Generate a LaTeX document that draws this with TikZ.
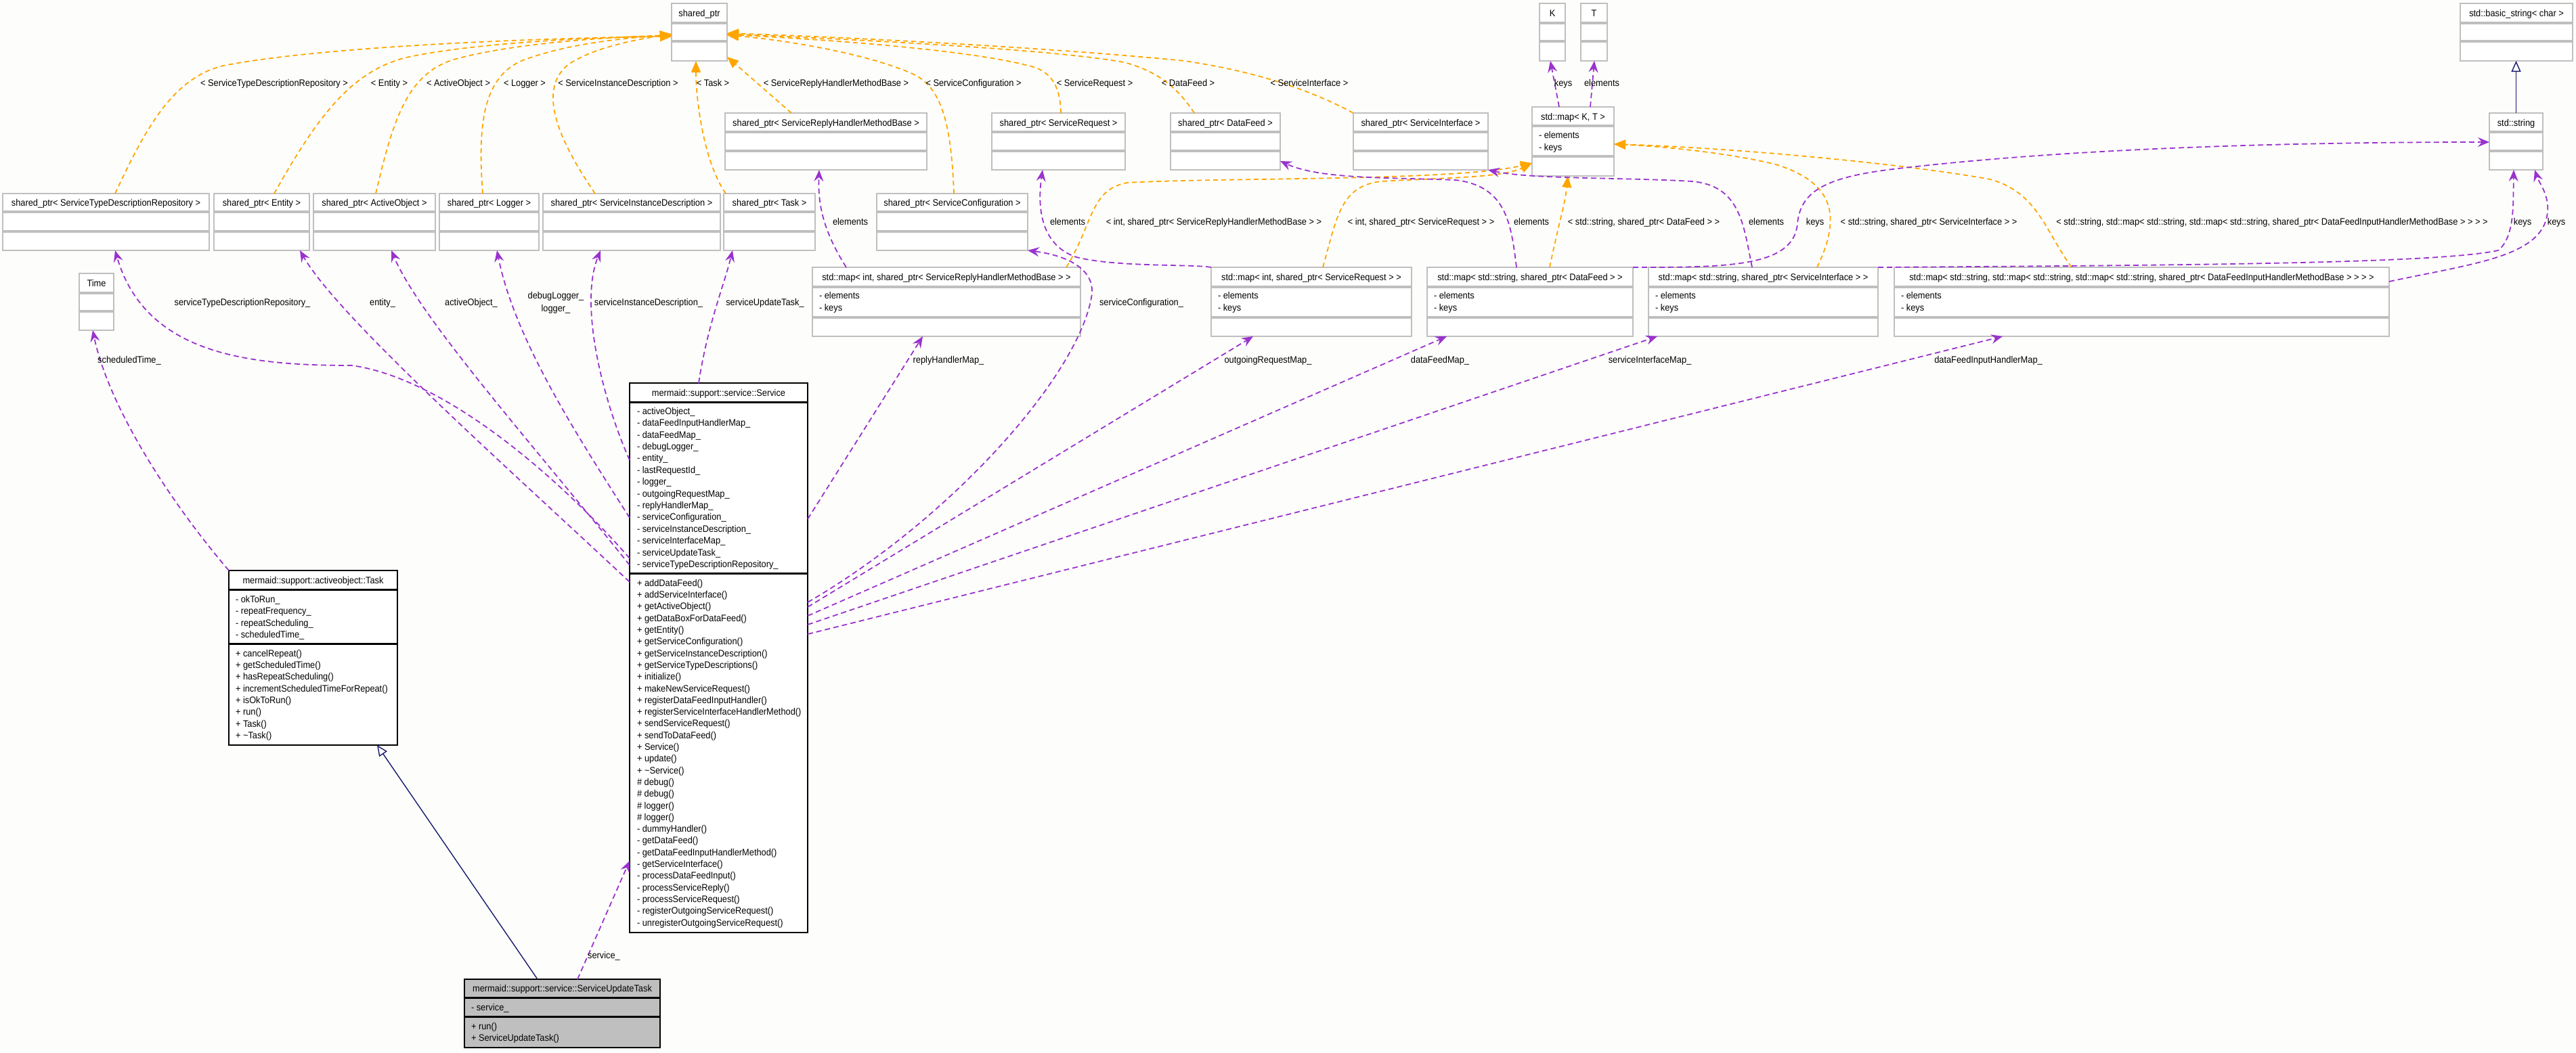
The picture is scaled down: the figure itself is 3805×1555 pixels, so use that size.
\documentclass[tikz,border=0pt]{standalone}
\usepackage{fontspec}
\setmainfont{Liberation Sans}[FakeStretch=0.915]
\usetikzlibrary{arrows.meta,fit,calc}
\definecolor{bgc}{RGB}{253,254,252}
\definecolor{orangeE}{RGB}{255,165,0}
\definecolor{purpleE}{RGB}{154,50,205}
\definecolor{navyE}{RGB}{25,25,112}
\definecolor{boxgray}{RGB}{191,191,191}
\definecolor{sutgray}{RGB}{191,191,191}
\tikzset{
  txt/.style={inner sep=0pt, outer sep=0pt, font=\fontsize{7pt}{8.7pt}\selectfont},
  graybox/.style={draw=boxgray, line width=1.1pt, fill=white, inner sep=0pt, outer sep=0pt},
  grayboxsep/.style={draw=boxgray, line width=1.6pt},
  blackbox/.style={draw=black, line width=1pt, fill=white, inner sep=0pt, outer sep=0pt},
  blackboxsep/.style={draw=black, line width=1.5pt},
  sutbox/.style={draw=black, line width=1pt, fill=sutgray, inner sep=0pt, outer sep=0pt},
  sutboxsep/.style={draw=black, line width=1.5pt},
  tmpl/.style={draw=orangeE, line width=0.9pt, dash pattern=on 3.5pt off 2.5pt, -{Triangle[length=8.5pt,width=7pt]}},
  usage/.style={draw=purpleE, line width=0.9pt, dash pattern=on 4pt off 2.5pt, -{Stealth[length=8.5pt,width=7pt,inset=3pt]}},
  inherit/.style={draw=navyE, line width=0.7pt, -{Triangle[open,length=8pt,width=7pt,fill=white]}},
}
\newcommand\umlcls[8][graybox]{%
  \node[#1, fit={(#3,#4) (#5,#6)}] (#2) {};
  \draw[#1sep] (#3,#7) -- (#5,#7) (#3,#8) -- (#5,#8);
}
\newcommand\ttl[3]{\node[txt, anchor=mid] at (#1,#2) {#3};}
\newcommand\mlist[4]{\foreach \memtxt [count=\memidx from 0] in {#4} {\node[txt, anchor=mid west] at ({#1},{#2+\memidx*#3}) {\memtxt};}}
\begin{document}
\begin{tikzpicture}[x=0.5pt,y=-0.5pt]
\fill[bgc] (0,0) rectangle (3805,1555);
\useasboundingbox (0,0) rectangle (3805,1555);

% ---------- top row
\umlcls{sp}{992}{5}{1074}{90}{34}{61}
\ttl{1033}{19.5}{shared\_ptr}
\umlcls{K}{2274}{5}{2312}{90}{34}{61}
\ttl{2293}{19.5}{K}
\umlcls{T}{2335}{5}{2374}{90}{34}{61}
\ttl{2354.5}{19.5}{T}
\umlcls{bstr}{3634}{5}{3800}{90}{34}{61}
\ttl{3717}{19.5}{std::basic\_string< char >}

% ---------- second row
\umlcls{spSRHMB}{1071}{167}{1369}{251}{195}{223}
\ttl{1220}{181}{shared\_ptr< ServiceReplyHandlerMethodBase >}
\umlcls{spSR}{1465}{167}{1662}{251}{195}{223}
\ttl{1563.5}{181}{shared\_ptr< ServiceRequest >}
\umlcls{spDF}{1729}{167}{1891}{251}{195}{223}
\ttl{1810}{181}{shared\_ptr< DataFeed >}
\umlcls{spSI}{1999}{167}{2198}{251}{195}{223}
\ttl{2098.5}{181}{shared\_ptr< ServiceInterface >}
\umlcls{mapKT}{2263}{158}{2384}{260}{186}{231}
\ttl{2323.5}{172}{std::map< K, T >}
\mlist{2273}{199}{18}{- elements, - keys}
\umlcls{str}{3677}{167}{3756}{251}{195}{223}
\ttl{3716.5}{181}{std::string}

% ---------- third row
\umlcls{spSTDR}{4}{286}{309}{370}{313}{342}
\ttl{156.5}{299.5}{shared\_ptr< ServiceTypeDescriptionRepository >}
\umlcls{spEnt}{316}{286}{457}{370}{313}{342}
\ttl{386.5}{299.5}{shared\_ptr< Entity >}
\umlcls{spAO}{463}{286}{643}{370}{313}{342}
\ttl{553}{299.5}{shared\_ptr< ActiveObject >}
\umlcls{spLog}{649}{286}{796}{370}{313}{342}
\ttl{722.5}{299.5}{shared\_ptr< Logger >}
\umlcls{spSID}{802}{286}{1064}{370}{313}{342}
\ttl{933}{299.5}{shared\_ptr< ServiceInstanceDescription >}
\umlcls{spTask}{1069}{286}{1204}{370}{313}{342}
\ttl{1136.5}{299.5}{shared\_ptr< Task >}
\umlcls{spSC}{1295}{286}{1518}{370}{313}{342}
\ttl{1406.5}{299.5}{shared\_ptr< ServiceConfiguration >}

% ---------- Time
\umlcls{time}{117}{404}{168}{488}{433}{460}
\ttl{142.5}{418.5}{Time}

% ---------- maps
\umlcls{mSRHMB}{1200}{395}{1596}{497}{424}{469}
\ttl{1398}{409.5}{std::map< int, shared\_ptr< ServiceReplyHandlerMethodBase > >}
\mlist{1210}{436}{18}{- elements, - keys}
\umlcls{mSR}{1789}{395}{2085}{497}{424}{469}
\ttl{1937}{409.5}{std::map< int, shared\_ptr< ServiceRequest > >}
\mlist{1799}{436}{18}{- elements, - keys}
\umlcls{mDF}{2108}{395}{2412}{497}{424}{469}
\ttl{2260}{409.5}{std::map< std::string, shared\_ptr< DataFeed > >}
\mlist{2118}{436}{18}{- elements, - keys}
\umlcls{mSI}{2435}{395}{2774}{497}{424}{469}
\ttl{2604.5}{409.5}{std::map< std::string, shared\_ptr< ServiceInterface > >}
\mlist{2445}{436}{18}{- elements, - keys}
\umlcls{mDFIH}{2798}{395}{3529}{497}{424}{469}
\ttl{3163.5}{409.5}{std::map< std::string, std::map< std::string, std::map< std::string, shared\_ptr< DataFeedInputHandlerMethodBase > > > >}
\mlist{2808}{436}{18}{- elements, - keys}

% ---------- Service
\umlcls[blackbox]{svc}{930}{566}{1193}{1378}{594}{847}
\ttl{1061.5}{580}{mermaid::support::service::Service}
\mlist{941}{607}{17.4}{- activeObject\_, - dataFeedInputHandlerMap\_, - dataFeedMap\_, - debugLogger\_, - entity\_, - lastRequestId\_, - logger\_, - outgoingRequestMap\_, - replyHandlerMap\_, - serviceConfiguration\_, - serviceInstanceDescription\_, - serviceInterfaceMap\_, - serviceUpdateTask\_, - serviceTypeDescriptionRepository\_}
\mlist{941}{861}{17.3}{+ addDataFeed(), + addServiceInterface(), + getActiveObject(), + getDataBoxForDataFeed(), + getEntity(), + getServiceConfiguration(), + getServiceInstanceDescription(), + getServiceTypeDescriptions(), + initialize(), + makeNewServiceRequest(), + registerDataFeedInputHandler(), + registerServiceInterfaceHandlerMethod(), + sendServiceRequest(), + sendToDataFeed(), + Service(), + update(), + \textasciitilde Service(), \# debug(), \# debug(), \# logger(), \# logger(), - dummyHandler(), - getDataFeed(), - getDataFeedInputHandlerMethod(), - getServiceInterface(), - processDataFeedInput(), - processServiceReply(), - processServiceRequest(), - registerOutgoingServiceRequest(), - unregisterOutgoingServiceRequest()}

% ---------- Task
\umlcls[blackbox]{task}{338}{843}{587}{1101}{871}{951}
\ttl{462.5}{857}{mermaid::support::activeobject::Task}
\mlist{348}{885}{17.4}{- okToRun\_, - repeatFrequency\_, - repeatScheduling\_, - scheduledTime\_}
\mlist{348}{965}{17.3}{+ cancelRepeat(), + getScheduledTime(), + hasRepeatScheduling(), + incrementScheduledTimeForRepeat(), + isOkToRun(), + run(), + Task(), + \textasciitilde Task()}

% ---------- ServiceUpdateTask
\umlcls[sutbox]{sut}{686}{1447}{975}{1548}{1474}{1502}
\ttl{830.5}{1460.5}{mermaid::support::service::ServiceUpdateTask}
\mlist{696}{1488}{17}{- service\_}
\mlist{696}{1516}{17}{+ run(), + ServiceUpdateTask()}

% ---------- orange template edges to shared_ptr
\draw[tmpl] (spSTDR.north -| 170,0) .. controls (215,190) and (255,115) .. (330,97) .. controls (480,68) and (800,56) .. (sp.west |- 0,54);
\draw[tmpl] (spEnt.north -| 405,0) .. controls (470,170) and (520,105) .. (600,85) .. controls (700,63) and (880,55) .. (sp.west |- 0,53);
\draw[tmpl] (spAO.north -| 555,0) .. controls (580,180) and (600,110) .. (670,88) .. controls (760,63) and (900,55) .. (sp.west |- 0,52);
\draw[tmpl] (spLog.north -| 713,0) .. controls (705,180) and (715,115) .. (770,90) .. controls (840,63) and (930,56) .. (sp.west |- 0,51);
\draw[tmpl] (spSID.north -| 879,0) .. controls (820,200) and (795,130) .. (840,95) .. controls (880,68) and (950,57) .. (sp.west |- 0,50);
\draw[tmpl] (spTask.north -| 1072,0) .. controls (1040,240) and (1028,150) .. (sp.south -| 1028,0);
\draw[tmpl] (spSRHMB.north -| 1169,0) -- (sp.east |- 0,84);
\draw[tmpl] (spSC.north -| 1409,0) .. controls (1405,180) and (1390,130) .. (1350,110) .. controls (1280,78) and (1150,58) .. (sp.east |- 0,52);
\draw[tmpl] (spSR.north -| 1567,0) .. controls (1566,130) and (1555,110) .. (1530,100) .. controls (1450,76) and (1250,60) .. (sp.east |- 0,51);
\draw[tmpl] (spDF.north -| 1764,0) .. controls (1740,130) and (1710,105) .. (1660,92) .. controls (1550,72) and (1250,58) .. (sp.east |- 0,50);
\draw[tmpl] (spSI.north west) .. controls (1930,130) and (1850,105) .. (1750,90) .. controls (1550,70) and (1250,55) .. (sp.east |- 0,49);

% ---------- orange template edges to std::map<K,T>
\draw[tmpl] (mSRHMB.north -| 1575,0) .. controls (1615,330) and (1610,280) .. (1665,270) .. controls (1800,262) and (2150,268) .. (mapKT.west |- 0,241);
\draw[tmpl] (mSR.north -| 1954,0) .. controls (1975,320) and (1980,275) .. (2040,268) .. controls (2150,262) and (2220,262) .. (mapKT.west |- 0,241);
\draw[tmpl] (mDF.north -| 2289,0) .. controls (2300,340) and (2312,300) .. (mapKT.south -| 2316,0);
\draw[tmpl] (mSI.north -| 2684,0) .. controls (2720,320) and (2710,270) .. (2623,243) .. controls (2550,225) and (2450,216) .. (mapKT.east |- 0,213);
\draw[tmpl] (mDFIH.north -| 3060,0) .. controls (3020,340) and (3010,285) .. (2940,265) .. controls (2800,240) and (2550,218) .. (mapKT.east |- 0,213);

% ---------- purple usage edges
\draw[usage] (task.north west) .. controls (250,740) and (160,600) .. (time.south -| 137,0);
\draw[usage] (svc.west |- 0,825) .. controls (830,710) and (660,560) .. (520,540) .. controls (370,540) and (215,525) .. (spSTDR.south -| 170,0);
\draw[usage] (svc.west |- 0,860) .. controls (760,700) and (500,470) .. (spEnt.south -| 443,0);
\draw[usage] (svc.west |- 0,835) .. controls (790,660) and (620,470) .. (spAO.south -| 578,0);
\draw[usage] (svc.west |- 0,765) .. controls (850,640) and (760,500) .. (spLog.south -| 734,0);
\draw[usage] (svc.west |- 0,680) .. controls (890,590) and (855,450) .. (spSID.south -| 887,0);
\draw[usage] (svc.north -| 1032,0) .. controls (1045,480) and (1070,420) .. (spTask.south -| 1082,0);
\draw[usage] (svc.east |- 0,767) -- (mSRHMB.south -| 1363,0);
\draw[usage] (svc.east |- 0,890) .. controls (1400,770) and (1590,560) .. (1612,440) .. controls (1620,400) and (1580,378) .. (spSC.south east);
\draw[usage] (svc.east |- 0,897) -- (mSR.south -| 1851,0);
\draw[usage] (svc.east |- 0,910) -- (mDF.south -| 2137,0);
\draw[usage] (svc.east |- 0,923) -- (mSI.south -| 2448,0);
\draw[usage] (svc.east |- 0,937) -- (mDFIH.south -| 2958,0);
\draw[usage] (sut.north -| 853,0) -- (svc.west |- 0,1272);
\draw[usage] (mSRHMB.north -| 1250,0) .. controls (1215,340) and (1208,300) .. (spSRHMB.south -| 1210,0);
\draw[usage] (mSR.north west) .. controls (1760,390) and (1650,395) .. (1590,380) .. controls (1545,365) and (1530,320) .. (spSR.south -| 1540,0);
\draw[usage] (mDF.north -| 2240,0) .. controls (2232,330) and (2225,275) .. (2150,266) .. controls (2050,262) and (1950,265) .. (spDF.east |- 0,238);
\draw[usage] (mDF.north east) .. controls (2550,395) and (2650,395) .. (2655,330) .. controls (2660,280) and (2700,260) .. (2813,248) .. controls (3100,215) and (3450,210) .. (str.west |- 0,210);
\draw[usage] (mSI.north -| 2588,0) .. controls (2575,330) and (2570,275) .. (2500,268) .. controls (2400,262) and (2260,265) .. (spSI.south east);
\draw[usage] (mSI.north east) .. controls (3200,392) and (3600,390) .. (3690,370) .. controls (3715,350) and (3712,300) .. (str.south -| 3713,0);
\draw[usage] (mDFIH.east |- 0,416) .. controls (3650,390) and (3750,380) .. (3762,320) .. controls (3768,290) and (3750,270) .. (str.south -| 3744,0);
\draw[usage] (mapKT.north -| 2303,0) -- (K.south -| 2290,0);
\draw[usage] (mapKT.north -| 2349,0) -- (T.south -| 2355,0);

% ---------- inheritance
\draw[inherit] (str.north) -- (str.north |- bstr.south);
\draw[inherit] (sut.north -| 794,0) -- (task.south -| 557,0);

% ---------- edge labels
\ttl{405}{122.5}{< ServiceTypeDescriptionRepository >}
\ttl{575}{122.5}{< Entity >}
\ttl{677}{122.5}{< ActiveObject >}
\ttl{775}{122.5}{< Logger >}
\ttl{913}{122.5}{< ServiceInstanceDescription >}
\ttl{1053}{122.5}{< Task >}
\ttl{1235}{122.5}{< ServiceReplyHandlerMethodBase >}
\ttl{1438}{122.5}{< ServiceConfiguration >}
\ttl{1617}{122.5}{< ServiceRequest >}
\ttl{1755}{122.5}{< DataFeed >}
\ttl{1934}{122.5}{< ServiceInterface >}
\ttl{2309}{122.5}{keys}
\ttl{2366}{122.5}{elements}

\ttl{1256}{327}{elements}
\ttl{1577}{327}{elements}
\ttl{1793}{327}{< int, shared\_ptr< ServiceReplyHandlerMethodBase > >}
\ttl{2099}{327}{< int, shared\_ptr< ServiceRequest > >}
\ttl{2262}{327}{elements}
\ttl{2428}{327}{< std::string, shared\_ptr< DataFeed > >}
\ttl{2609}{327}{elements}
\ttl{2681}{327}{keys}
\ttl{2849}{327}{< std::string, shared\_ptr< ServiceInterface > >}
\ttl{3356}{327}{< std::string, std::map< std::string, std::map< std::string, shared\_ptr< DataFeedInputHandlerMethodBase > > > >}
\ttl{3726}{327}{keys}
\ttl{3776}{327}{keys}

\ttl{358}{446}{serviceTypeDescriptionRepository\_}
\ttl{565}{446}{entity\_}
\ttl{696}{446}{activeObject\_}
\ttl{821}{436}{debugLogger\_}
\ttl{821}{455}{logger\_}
\ttl{958}{446}{serviceInstanceDescription\_}
\ttl{1130}{446}{serviceUpdateTask\_}
\ttl{1686}{446}{serviceConfiguration\_}

\ttl{191}{531}{scheduledTime\_}
\ttl{1401}{531}{replyHandlerMap\_}
\ttl{1873}{531}{outgoingRequestMap\_}
\ttl{2127}{531}{dataFeedMap\_}
\ttl{2437}{531}{serviceInterfaceMap\_}
\ttl{2937}{531}{dataFeedInputHandlerMap\_}
\ttl{892}{1411}{service\_}
\end{tikzpicture}
\end{document}
